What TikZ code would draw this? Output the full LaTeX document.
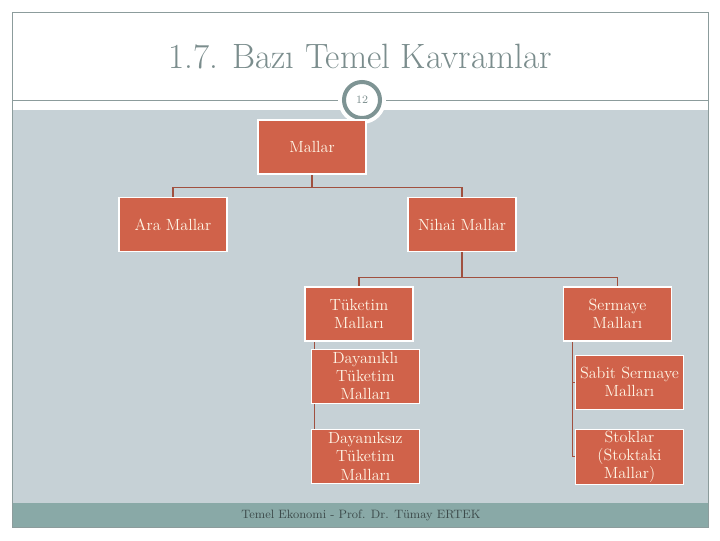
\documentclass[tikz,border=0pt]{standalone}
\usepackage{fontspec}
\usepackage{tikz}
\usetikzlibrary{positioning,backgrounds}

\definecolor{boxred}{HTML}{D0624A}
\definecolor{boxtext}{HTML}{FFF6E6}
\definecolor{linered}{HTML}{A0503F}
\definecolor{bandgray}{HTML}{C6D1D6}
\definecolor{footgray}{HTML}{89A9A7}
\definecolor{framegray}{HTML}{8C9C9C}
\definecolor{titlegray}{HTML}{7B8D8D}
\definecolor{ringgray}{HTML}{7E9494}
\definecolor{foottext}{HTML}{3C4A4A}

\begin{document}
\begin{tikzpicture}[x=0.025cm, y=-0.025cm,
    box/.style={rectangle, draw=white, line width=0.8pt, fill=boxred, text=boxtext,
        minimum width=2.7cm, minimum height=1.35cm, align=center, inner sep=1pt,
        font=\fontsize{11.5}{13}\selectfont},
    line/.style={draw=linered, line width=0.8pt}]

    \useasboundingbox (0,0) rectangle (720,540);

    \begin{scope}[on background layer]
        \fill[white] (0,0) rectangle (720,540);
        \fill[bandgray] (12,110) rectangle (708,503);
        \fill[footgray] (12,503) rectangle (708,527);
        \draw[framegray, line width=0.6pt] (12,12) rectangle (708,527);
        \draw[framegray, line width=0.6pt] (12,100) -- (708,100);
    \end{scope}

    % title and page number
    \node [text=titlegray, font=\fontsize{25}{29}\selectfont] (title) at (360,57) {1.7. Bazı Temel Kavramlar};
    \node [circle, fill=white, minimum size=1.2cm, inner sep=0pt] (halo) at (362,100) {};
    \node [circle, draw=ringgray, line width=0.1cm, fill=white, minimum size=0.9cm, inner sep=0pt,
        text=titlegray, font=\fontsize{8}{9}\selectfont] (pagenum) at (362,100) {12};

    % tree
    \node [box] (mallar) at (312,147) {Mallar};
    \node [box] (ara) at (173,224.5) {Ara Mallar};
    \node [box] (nihai) at (462,224.5) {Nihai Mallar};

    \node [box] (tuketim) at (359,314) {Tüketim\\Malları};
    \node [box, below=0.175cm of tuketim, xshift=0.16cm] (dayanikli) {Dayanıklı\\Tüketim\\Malları};
    \node [box, below=0.625cm of dayanikli] (dayaniksiz) {Dayanıksız\\Tüketim\\Malları};

    \node [box] (sermaye) at (617.5,314) {Sermaye\\Malları};
    \node [box, below=0.325cm of sermaye, xshift=0.3cm] (sabit) {Sabit Sermaye\\Malları};
    \node [box, below=0.475cm of sabit] (stoklar) {Stoklar\\(Stoktaki\\Mallar)};

    % footer
    \node [text=foottext, font=\fontsize{8.6}{10}\selectfont] (footer) at (361,515) {Temel Ekonomi - Prof. Dr. Tümay ERTEK};

    \begin{scope}[on background layer]
        \draw[line] (mallar.south) -- ++(0,13) -| (ara.north);
        \draw[line] (mallar.south) -- ++(0,13) -| (nihai.north);
        \draw[line] (nihai.south) -- ++(0,25) -| (tuketim.north);
        \draw[line] (nihai.south) -- ++(0,25) -| (sermaye.north);
        \draw[line] (tuketim.south west) ++(10,0) |- (dayanikli.west);
        \draw[line] (tuketim.south west) ++(10,0) |- (dayaniksiz.west);
        \draw[line] (sermaye.south west) ++(10,0) |- (sabit.west);
        \draw[line] (sermaye.south west) ++(10,0) |- (stoklar.west);
    \end{scope}

\end{tikzpicture}
\end{document}
